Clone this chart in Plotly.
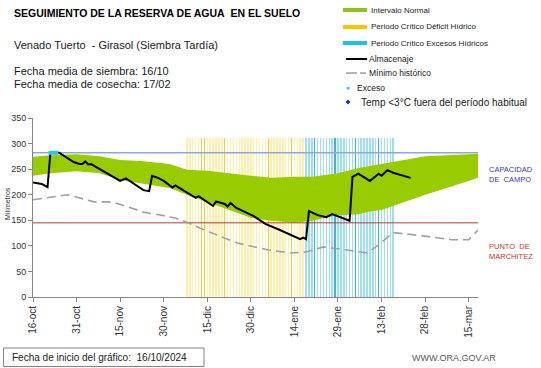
import plotly.graph_objects as go
import pandas as pd

# ---------------- data ----------------
alm_dates = ["2024-10-16", "2024-10-19", "2024-10-21", "2024-10-22", "2024-10-25", "2024-10-28",
             "2024-10-30", "2024-11-01", "2024-11-02", "2024-11-03", "2024-11-04", "2024-11-05",
             "2024-11-15", "2024-11-17", "2024-11-23", "2024-11-25", "2024-11-26", "2024-11-28",
             "2024-11-30", "2024-12-03", "2024-12-04", "2024-12-11", "2024-12-12", "2024-12-17",
             "2024-12-18", "2024-12-21", "2024-12-22", "2024-12-23", "2024-12-25", "2024-12-31",
             "2025-01-04", "2025-01-09", "2025-01-16", "2025-01-17", "2025-01-18", "2025-01-19",
             "2025-01-22", "2025-01-25", "2025-01-27", "2025-02-02", "2025-02-03", "2025-02-05",
             "2025-02-09", "2025-02-12", "2025-02-13", "2025-02-15", "2025-02-17", "2025-02-23"]
alm_vals = [224, 221, 215, 282, 282, 271,
            264, 260, 260, 265, 259, 260,
            227, 232, 209, 207, 237, 233,
            227, 214, 218, 194, 197, 178,
            187, 182, 177, 184, 174, 158,
            143, 131, 113, 116, 113, 168,
            160, 156, 162, 149, 235, 241,
            227, 241, 237, 248, 243, 233]

band_dates = ["2024-10-16", "2024-10-22", "2024-10-31", "2024-11-08", "2024-11-15", "2024-11-22",
              "2024-11-29", "2024-12-02", "2024-12-08", "2024-12-15", "2024-12-30", "2025-01-06",
              "2025-01-14", "2025-01-20", "2025-01-29", "2025-02-05", "2025-02-09", "2025-02-13",
              "2025-02-28", "2025-03-15", "2025-03-18 05:00"]
band_upper = [274, 277, 279, 275, 268, 266, 262, 260, 249, 247, 237, 233,
              235, 235, 242, 252, 256, 260, 275, 279, 280]
band_lower = [237, 242, 246, 242, 229, 223, 217, 213, 200, 186, 155, 149,
              145, 149, 160, 162, 167, 170, 200, 227, 233]

min_dates = ["2024-10-16", "2024-10-21", "2024-10-28", "2024-11-06", "2024-11-11", "2024-11-14",
             "2024-11-23", "2024-12-02", "2024-12-06", "2024-12-14", "2024-12-25", "2025-01-05",
             "2025-01-13", "2025-01-18", "2025-01-24", "2025-02-01", "2025-02-05", "2025-02-08",
             "2025-02-12", "2025-02-17", "2025-02-28", "2025-03-09", "2025-03-15", "2025-03-18 05:00"]
min_vals = [190, 194, 200, 186, 186, 183, 166, 157, 151, 131, 106, 92,
            86, 88, 98, 92, 89, 86, 102, 126, 119, 112, 112, 131]

exceso_dates = ["2024-10-22", "2024-10-23", "2024-10-24"]
exceso_vals = [282, 282, 282]

deficit_start, deficit_end = "2024-12-08", "2025-01-17"
excesos_start, excesos_end = "2025-01-18", "2025-02-17"
deficit_dark = ["2024-12-13", "2024-12-14", "2024-12-21", "2025-01-05", "2025-01-13"]
excesos_dark = ["2025-01-21", "2025-01-28", "2025-02-04", "2025-02-12"]
stripe_top = 310

capacidad_campo = 282
punto_marchitez = 145

x_start, x_end = "2024-10-16", "2025-03-18 05:00"
tick_dates = ["2024-10-16", "2024-10-31", "2024-11-15", "2024-11-30", "2024-12-15", "2024-12-30",
              "2025-01-14", "2025-01-29", "2025-02-13", "2025-02-28", "2025-03-15"]
tick_labels = ["16-oct", "31-oct", "15-nov", "30-nov", "15-dic", "30-dic",
               "14-ene", "29-ene", "13-feb", "28-feb", "15-mar"]

# ---------------- figure ----------------
FONT = "Liberation Sans, Arial, sans-serif"
W, H = 541, 368
L, R, T, B = 33, 63, 118, 71
PW, PH = W - L - R, H - T - B


def xp(px):
    return (px - L) / PW


def yp(py):
    return (H - B - py) / PH


fig = go.Figure()

# Intervalo normal (band)
fig.add_trace(go.Scatter(x=band_dates, y=band_lower, mode="lines", line=dict(width=0),
                         hoverinfo="skip", showlegend=False))
fig.add_trace(go.Scatter(x=band_dates, y=band_upper, mode="lines", line=dict(width=0),
                         fill="tonexty", fillcolor="#99CC00", showlegend=False))

# Critical period stripes
day_ms = 86400000
def_days = pd.date_range(deficit_start, deficit_end, freq="D")
exc_days = pd.date_range(excesos_start, excesos_end, freq="D")
dd = set(pd.to_datetime(deficit_dark))
ed = set(pd.to_datetime(excesos_dark))
fig.add_trace(go.Bar(x=def_days, y=[stripe_top] * len(def_days), width=day_ms * 0.5,
                     marker=dict(color=["rgba(242,192,0,0.8)" if d in dd else "rgba(255,224,85,0.5)"
                                        for d in def_days], line=dict(width=0)),
                     showlegend=False))
fig.add_trace(go.Bar(x=exc_days, y=[stripe_top] * len(exc_days), width=day_ms * 0.5,
                     marker=dict(color=["rgba(0,165,210,0.8)" if d in ed else "rgba(60,192,235,0.5)"
                                        for d in exc_days], line=dict(width=0)),
                     showlegend=False))

# Reference lines
fig.add_trace(go.Scatter(x=[x_start, x_end], y=[capacidad_campo] * 2, mode="lines",
                         line=dict(color="#8FA8DC", width=1.5), showlegend=False))
fig.add_trace(go.Scatter(x=[x_start, x_end], y=[punto_marchitez] * 2, mode="lines",
                         line=dict(color="#C0392B", width=1), showlegend=False))

# Minimo historico
fig.add_trace(go.Scatter(x=min_dates, y=min_vals, mode="lines",
                         line=dict(color="#A0A0A0", width=1.6, dash="9px,5px"), showlegend=False))

# Almacenaje
fig.add_trace(go.Scatter(x=alm_dates, y=alm_vals, mode="lines",
                         line=dict(color="black", width=2), showlegend=False))

# Exceso
fig.add_trace(go.Scatter(x=exceso_dates, y=exceso_vals, mode="markers",
                         marker=dict(symbol="square", size=4, color="#33C3F0"), showlegend=False))

shapes = []
annots = []


def text(px, py, s, size, color="#1a1a1a", bold=False, anchor="left", angle=0, align="left"):
    annots.append(dict(x=xp(px), y=yp(py), xref="paper", yref="paper", text=(f"<b>{s}</b>" if bold else s),
                       showarrow=False, xanchor=anchor, yanchor="middle", textangle=angle, align=align,
                       font=dict(family=FONT, size=size, color=color)))


def hline(x0, x1, py, color, width, dash="solid"):
    shapes.append(dict(type="line", xref="paper", yref="paper", x0=xp(x0), x1=xp(x1), y0=yp(py), y1=yp(py),
                       line=dict(color=color, width=width, dash=dash)))


# Titles
text(12, 13, "SEGUIMIENTO DE LA RESERVA DE AGUA\u00a0 EN EL SUELO", 10.5, color="black", bold=True)
text(12, 45, "Venado Tuerto\u00a0 - Girasol (Siembra Tardía)", 11)
text(12, 71, "Fecha media de siembra: 16/10", 11)
text(12, 84, "Fecha media de cosecha: 17/02", 11)

# Legend
hline(343, 367, 10, "#92C01F", 4)
text(369, 10, "Intervalo Normal", 8)
hline(343, 367, 27, "#FFC000", 4)
text(369, 27, "Periodo Crítico Déficit Hídrico", 8)
hline(343, 367, 43, "#21BFEA", 4)
text(369, 43, "Periodo Crítico Excesos Hídricos", 8)
hline(346, 367, 59, "black", 2)
text(367, 59, "Almacenaje", 8.5)
hline(346, 357, 73, "#A0A0A0", 1.6)
hline(360, 366, 73, "#A0A0A0", 1.6)
text(367, 73, "Mínimo histórico", 8.5)
shapes.append(dict(type="rect", xref="paper", yref="paper", x0=xp(347), x1=xp(349.5), y0=yp(87), y1=yp(89.5),
                   fillcolor="#33C3F0", line=dict(width=0)))
text(355, 88, "Exceso", 8.5)
shapes.append(dict(type="path", xref="paper", yref="paper",
                   path=f"M {xp(348)} {yp(99.5)} L {xp(350.5)} {yp(102)} L {xp(348)} {yp(104.5)} L {xp(345.5)} {yp(102)} Z",
                   fillcolor="#1F2FA8", line=dict(width=0)))
text(359, 102, "Temp <3°C fuera del período habitual", 10)

# Right labels
text(487, 174.5, "CAPACIDAD<br>DE\u00a0 CAMPO", 7.5, color="#3838B0")
text(487, 251, "PUNTO\u00a0 DE<br>MARCHITEZ", 7.5, color="#C0392B")

# Y axis title
text(7, 204, "Milímetros", 7, color="#333333", anchor="center", angle=-90)

# Footer
shapes.append(dict(type="rect", xref="paper", yref="paper", x0=xp(3.5), x1=xp(204), y0=yp(348), y1=yp(366.5),
                   line=dict(color="#8C7F7F", width=1), fillcolor="white"))
text(10, 357.5, "Fecha de inicio del gráfico:\u00a0 16/10/2024", 10, color="#222222")
text(454, 358, "WWW.ORA.GOV.AR", 9, color="#595959", anchor="center")

fig.update_layout(
    width=W, height=H,
    margin=dict(l=L, r=R, t=T, b=B, pad=0),
    paper_bgcolor="white", plot_bgcolor="white",
    barmode="overlay", bargap=0,
    showlegend=False,
    shapes=shapes, annotations=annots,
    font=dict(family=FONT, size=9, color="#333333"),
    xaxis=dict(type="date", range=[x_start, x_end], tickvals=tick_dates, ticktext=tick_labels,
               tickangle=-90, ticks="outside", ticklen=4, tickcolor="#868686",
               showline=True, linecolor="#868686", linewidth=1, showgrid=False, zeroline=False,
               tickfont=dict(family=FONT, size=10, color="#333333")),
    yaxis=dict(range=[0, 350], dtick=50, ticks="outside", ticklen=4, tickcolor="#868686",
               showline=True, linecolor="#868686", linewidth=1, showgrid=False, zeroline=False,
               tickfont=dict(family=FONT, size=9, color="#333333")),
)

fig.write_html("out.html", config={"displayModeBar": False},
               post_script="document.body.style.margin='0';document.body.style.padding='0';")
